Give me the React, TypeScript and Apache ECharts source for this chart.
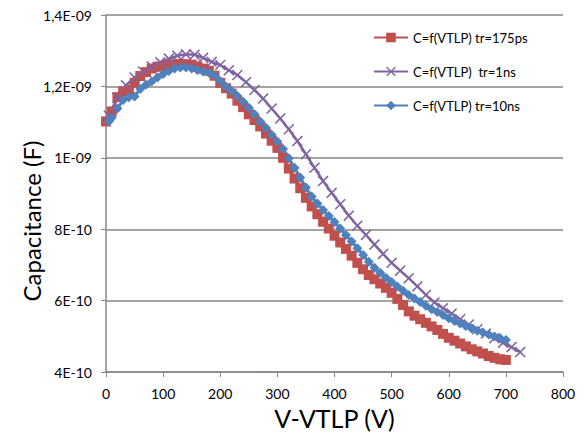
import React, { useEffect, useRef } from "react";
import * as echarts from "echarts";

// Capacitance values in units of 1E-10 F
const xRed: number[] = [0,10,20,30,40,50,60,70,80,90,100,110,120,130,140,150,160,170,180,190,200,210,220,230,240,250,260,270,280,290,300,310,320,330,340,350,360,370,380,390,400,410,420,430,440,450,460,470,480,490,500,510,520,530,540,550,560,570,580,590,600,610,620,630,640,650,660,670,680,690,700];
const yRed: number[] = [11.02,11.30,11.70,11.86,11.90,12.10,12.29,12.40,12.50,12.55,12.57,12.60,12.62,12.63,12.62,12.61,12.56,12.50,12.44,12.30,12.10,11.95,11.80,11.60,11.42,11.22,11.06,10.88,10.68,10.48,10.28,10.00,9.70,9.42,9.15,8.88,8.64,8.42,8.21,8.02,7.82,7.63,7.45,7.26,7.06,6.88,6.72,6.60,6.48,6.36,6.22,6.05,5.88,5.70,5.58,5.48,5.38,5.28,5.18,5.07,4.96,4.88,4.80,4.72,4.64,4.58,4.52,4.45,4.40,4.36,4.34];

const xPurple: number[] = [5,20,35,50,65,80,95,110,125,140,155,170,185,200,215,230,245,260,275,290,305,320,335,350,365,380,395,410,425,440,455,470,485,500,515,530,545,560,575,590,605,620,635,650,665,680,695,710,725];
const yPurple: number[] = [11.18,11.68,12.03,12.25,12.42,12.56,12.68,12.78,12.86,12.90,12.89,12.80,12.69,12.60,12.45,12.32,12.12,11.90,11.66,11.38,11.10,10.80,10.47,10.10,9.72,9.35,9.02,8.70,8.38,8.10,7.84,7.57,7.31,7.06,6.84,6.63,6.40,6.16,5.95,5.79,5.64,5.48,5.33,5.20,5.08,4.95,4.82,4.70,4.56];

const xBlue: number[] = [5,10,20,30,40,50,60,70,80,90,100,110,120,130,140,150,160,170,180,190,200,210,220,230,240,250,260,270,280,290,300,310,320,330,340,350,360,370,380,390,400,410,420,430,440,450,460,470,480,490,500,510,520,530,540,550,560,570,580,590,600,610,620,630,640,650,660,670,680,690,700];
const yBlue: number[] = [11.02,11.12,11.38,11.62,11.70,11.72,11.93,12.05,12.14,12.25,12.35,12.43,12.50,12.53,12.53,12.50,12.46,12.42,12.38,12.30,12.15,12.00,11.87,11.73,11.57,11.40,11.22,11.02,10.84,10.65,10.46,10.25,9.99,9.72,9.45,9.17,8.92,8.72,8.54,8.37,8.20,8.02,7.84,7.66,7.47,7.28,7.09,6.92,6.78,6.64,6.52,6.40,6.28,6.16,6.06,5.96,5.86,5.76,5.68,5.60,5.51,5.43,5.36,5.29,5.22,5.16,5.11,5.05,5.00,4.95,4.90];

const seriesNames: string[] = ["C=f(VTLP) tr=175ps", "C=f(VTLP)  tr=1ns", "C=f(VTLP) tr=10ns"];
const yTickLabels: Record<string, string> = {
  "4": "4E-10",
  "6": "6E-10",
  "8": "8E-10",
  "10": "1E-09",
  "12": "1,2E-09",
  "14": "1,4E-09",
};
const yAxisTitle = "Capacitance (F)";
const xAxisTitle = "V-VTLP (V)";

const X_SYMBOL = "path://M0,1 L1,0 L5,4 L9,0 L10,1 L6,5 L10,9 L9,10 L5,6 L1,10 L0,9 L4,5 Z";
const FONT = "Lato, 'Open Sans', sans-serif";

function zip(xs: number[], ys: number[]) {
  return xs.map((x, i) => [x, ys[i]]);
}

export default function App() {
  const ref = useRef<HTMLDivElement>(null);
  useEffect(() => {
    if (!ref.current) return;
    const chart = echarts.init(ref.current, null, { renderer: "svg" });
    const axisGrey = "#868686";
    chart.setOption({
      animation: false,
      backgroundColor: "#ffffff",
      textStyle: { fontFamily: FONT },
      grid: { left: 106, right: 21, top: 15, bottom: 58 },
      legend: {
        orient: "vertical",
        left: 373,
        top: 31,
        padding: 0,
        itemWidth: 34,
        itemHeight: 12,
        itemGap: 21,
        itemTextGap: 2,
        textStyle: { fontSize: 13, color: "#000", fontFamily: FONT },
        data: seriesNames,
      },
      graphic: [
        {
          type: "text",
          x: 31,
          y: 221,
          rotation: Math.PI / 2,
          style: {
            text: yAxisTitle,
            fontSize: 24,
            fontFamily: FONT,
            fill: "#000",
            textAlign: "center",
            textVerticalAlign: "middle",
          },
        },
      ],
      xAxis: {
        type: "value",
        min: 0,
        max: 800,
        interval: 100,
        name: xAxisTitle,
        nameLocation: "middle",
        nameGap: 32,
        nameTextStyle: { fontSize: 25, color: "#000", fontFamily: FONT },
        axisLine: { show: true, lineStyle: { color: axisGrey, width: 1.5 } },
        axisTick: { show: true, length: 5, lineStyle: { color: axisGrey } },
        axisLabel: { fontSize: 14, color: "#000", margin: 14, fontFamily: FONT },
        splitLine: { show: false },
      },
      yAxis: {
        type: "value",
        min: 4,
        max: 14,
        interval: 2,
        axisLine: { show: true, lineStyle: { color: axisGrey, width: 1.5 } },
        axisTick: { show: true, length: 5, lineStyle: { color: axisGrey } },
        axisLabel: {
          fontSize: 14,
          color: "#000",
          margin: 14,
          fontFamily: FONT,
          formatter: (v: number) => yTickLabels[String(v)] ?? "",
        },
        splitLine: { show: true, lineStyle: { color: axisGrey, width: 1.5 } },
      },
      series: [
        {
          name: seriesNames[0],
          type: "line",
          data: zip(xRed, yRed),
          symbol: "rect",
          symbolSize: 10,
          lineStyle: { color: "#C0504D", width: 3 },
          itemStyle: { color: "#C0504D" },
        },
        {
          name: seriesNames[1],
          type: "line",
          data: zip(xPurple, yPurple),
          symbol: X_SYMBOL,
          symbolSize: 11,
          lineStyle: { color: "#8064A2", width: 2.5 },
          itemStyle: { color: "#8064A2" },
        },
        {
          name: seriesNames[2],
          type: "line",
          data: zip(xBlue, yBlue),
          symbol: "diamond",
          symbolSize: 10,
          lineStyle: { color: "#4F81BD", width: 3 },
          itemStyle: { color: "#4F81BD" },
        },
      ],
    });
    return () => chart.dispose();
  }, []);
  return (
    <div
      ref={ref}
      style={{ position: "absolute", left: 0, top: 0, width: 584, height: 435 }}
    />
  );
}
